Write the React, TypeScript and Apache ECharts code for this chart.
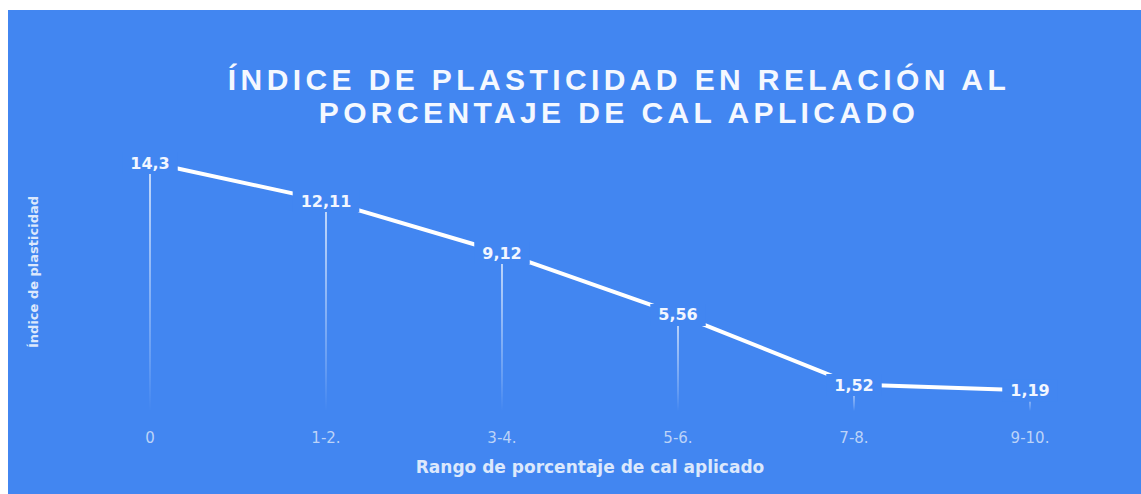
import React, { useEffect, useRef } from "react";
import * as echarts from "echarts";

const categories = ["0", "1-2.", "3-4.", "5-6.", "7-8.", "9-10."];
const values = [14.3, 12.11, 9.12, 5.56, 1.52, 1.19];
const titleText = "ÍNDICE DE PLASTICIDAD EN RELACIÓN AL\nPORCENTAJE DE CAL APLICADO";
const xName = "Rango de porcentaje de cal aplicado";
const yName = "Índice de plasticidad";

const BG = "#4286F1";
const WIDE = "'DejaVu Sans', Verdana, sans-serif";

export default function App() {
  const ref = useRef<HTMLDivElement>(null);
  useEffect(() => {
    if (!ref.current) return;
    const chart = echarts.init(ref.current, null, { renderer: "svg" });
    chart.setOption({
      animation: false,
      backgroundColor: BG,
      textStyle: { fontFamily: WIDE },
      graphic: [
        {
          type: "text",
          x: 611,
          y: 86,
          style: {
            text: titleText,
            fill: "#F4F8FF",
            font: "bold 30px 'Liberation Sans', Arial, sans-serif",
            lineHeight: 33,
            textAlign: "center",
            textVerticalAlign: "middle",
          },
        },
      ],
      grid: { left: 54, right: 23, top: 123, bottom: 83 },
      xAxis: {
        type: "category",
        data: categories,
        boundaryGap: true,
        axisLine: { show: false },
        axisTick: { show: false },
        axisLabel: { color: "#BCD3F8", fontSize: 15, margin: 19, fontFamily: WIDE },
        name: xName,
        nameLocation: "middle",
        nameGap: 47,
        nameTextStyle: { color: "#DCE8FC", fontSize: 17, fontWeight: "bold", fontFamily: WIDE },
      },
      yAxis: {
        type: "value",
        min: 0,
        max: 16,
        axisLine: { show: false },
        axisTick: { show: false },
        axisLabel: { show: false },
        splitLine: { show: false },
        name: yName,
        nameLocation: "middle",
        nameRotate: 90,
        nameGap: 22,
        nameTextStyle: { color: "#DCE8FC", fontSize: 13, fontWeight: "bold", fontFamily: WIDE },
      },
      series: [
        {
          type: "bar",
          data: values,
          barWidth: 2,
          silent: true,
          itemStyle: {
            color: new echarts.graphic.LinearGradient(0, 0, 0, 1, [
              { offset: 0, color: "rgba(255,255,255,0.7)" },
              { offset: 0.8, color: "rgba(255,255,255,0.18)" },
              { offset: 1, color: "rgba(255,255,255,0)" },
            ]),
          },
          z: 1,
        },
        {
          type: "line",
          data: values,
          symbol: "circle",
          symbolSize: 1,
          showSymbol: true,
          itemStyle: { color: "#FFFFFF" },
          lineStyle: { color: "#FFFFFF", width: 4 },
          label: {
            show: true,
            position: "top",
            distance: 0,
            offset: [0, 12],
            formatter: (p: any) => String(p.value).replace(".", ","),
            color: "#F2F6FF",
            fontSize: 16,
            fontWeight: "bold",
            fontFamily: WIDE,
            backgroundColor: BG,
            padding: [3, 8],
          },
          z: 3,
        },
      ],
    });
    const dom = chart.getDom();
    dom.querySelectorAll("text").forEach((t: any) => {
      const s = t.textContent || "";
      if (s.indexOf("ÍNDICE DE") === 0 || s.indexOf("PORCENTAJE DE CAL") === 0) {
        t.style.letterSpacing = "4.4px";
      }
    });
    return () => chart.dispose();
  }, []);
  return (
    <div style={{ position: "fixed", left: 0, top: 0, width: 1141, height: 494, background: "#FFFFFF" }}>
      <div ref={ref} style={{ position: "absolute", left: 8, top: 10, width: 1133, height: 484 }} />
    </div>
  );
}
